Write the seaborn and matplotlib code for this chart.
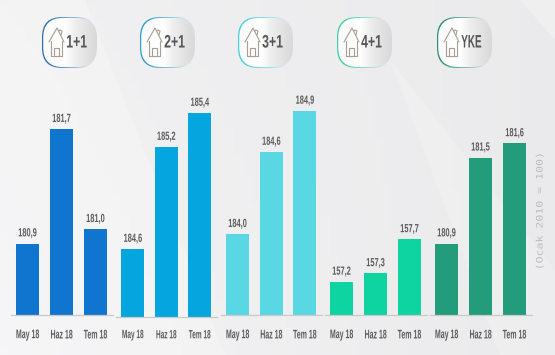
import numpy as np
import pandas as pd
import matplotlib
matplotlib.use("Agg")
import matplotlib.pyplot as plt
from matplotlib.patches import FancyBboxPatch, Polygon
from matplotlib.patheffects import AbstractPathEffect
from matplotlib.transforms import Affine2D
from matplotlib.colors import to_rgb
import seaborn as sns

months = ["May 18", "Haz 18", "Tem 18"]
groups = ["1+1", "2+1", "3+1", "4+1", "YKE"]
values_11 = [180.9, 181.7, 181.0]
values_21 = [184.6, 185.2, 185.4]
values_31 = [184.0, 184.6, 184.9]
values_41 = [157.2, 157.3, 157.7]
values_yke = [180.9, 181.5, 181.6]
all_values = [values_11, values_21, values_31, values_41, values_yke]

colors = ["#0f75cf", "#05a6e0", "#59d7e2", "#0dd4a0", "#229c7b"]
# alt sinir ve piksel/birim, her panel kendi olceginde
y_bottoms = [180.4, 184.2, 183.41, 156.81, 180.4]
slopes = [143, 170, 137, 85, 143]
# panel yerlesimi (piksel): sol, genislik, taban
panels = [(10.5, 102, 315), (116, 100.5, 317), (220.7, 101, 315),
          (324.5, 102, 315), (429.5, 102, 315)]
pill_lefts = [42, 140, 238, 337, 437]
border_colors = ["#2a6fb5", "#2a9fc8", "#45cfd8", "#3fd0a8", "#2a8f78"]

W, H = 555, 355
sns.set_theme(style="white")
plt.rcParams["font.family"] = ["Liberation Sans", "DejaVu Sans"]


# dar yazi tipi yok, yaziyi ekranda sikistir/uzat
class Squeeze(AbstractPathEffect):
    def __init__(self, sx=1.0, sy=1.0):
        super().__init__()
        self.sx = sx
        self.sy = sy

    def draw_path(self, renderer, gc, tpath, affine, rgbFace=None):
        ext = tpath.get_extents(affine)
        cx = (ext.x0 + ext.x1) / 2
        cy = (ext.y0 + ext.y1) / 2
        s = Affine2D().translate(-cx, -cy).scale(self.sx, self.sy).translate(cx, cy)
        renderer.draw_path(gc, tpath, affine + s, rgbFace)


fig = plt.figure(figsize=(W / 100, H / 100), dpi=100)

# arka plan
bg = fig.add_axes([0, 0, 1, 1], zorder=0)
bg.set_xlim(0, W)
bg.set_ylim(H, 0)
bg.axis("off")
xx, yy = np.meshgrid(np.linspace(0, 1, 64), np.linspace(0, 1, 64))
shade = 0.945 - 0.025 * xx + 0.012 * yy * (1 - xx)
bg.imshow(np.dstack([shade, shade, shade + 0.006]).clip(0, 1), extent=[0, W, H, 0], aspect="auto", zorder=0)
bg.add_patch(Polygon([(0, 0), (85, 0), (225, 355), (0, 355)], fc="white", ec="none", alpha=0.22, zorder=1))
bg.add_patch(Polygon([(390, 60), (555, 270), (555, 355), (500, 355)], fc="white", ec="none", alpha=0.16, zorder=1))
bg.add_patch(Polygon([(520, 0), (555, 0), (555, 40)], fc="white", ec="none", alpha=0.25, zorder=1))


def pill_patch(x, y, w, h, rad):
    return FancyBboxPatch((x + rad, y + rad), w - 2 * rad, h - 2 * rad,
                          boxstyle=f"round,pad={rad},rounding_size={rad}",
                          transform=bg.transData, fc="none", ec="none")


def draw_badge(left, label, col):
    top, w, h = 17, 55, 51
    # renkli kenar, saga dogru soluyor
    r, g, b = to_rgb(col)
    alpha = np.clip(1.15 - np.linspace(0, 1, 128) * 1.2, 0, 1)
    edge = np.dstack([np.full((1, 128), r), np.full((1, 128), g), np.full((1, 128), b), alpha[None, :]])
    im = bg.imshow(edge, extent=[left, left + w, top + h, top], aspect="auto", zorder=2)
    p = pill_patch(left, top, w, h, 20)
    bg.add_patch(p)
    im.set_clip_path(p)
    # ic dolgu
    ramp = np.interp(np.linspace(0, 1, 128), [0, 0.42, 0.6, 1], [0.98, 1.0, 0.93, 0.85])
    fill = np.dstack([ramp, ramp, ramp]).reshape(1, 128, 3)
    im2 = bg.imshow(fill, extent=[left + 1, left + w, top + h - 1, top + 1], aspect="auto", zorder=3)
    p2 = pill_patch(left + 1.2, top + 1, w - 1.2, h - 2, 19.5)
    bg.add_patch(p2)
    im2.set_clip_path(p2)
    # ev simgesi
    hx = left + 15
    lc = "#a89e92"
    bg.plot([hx - 8, hx, hx + 7], [42, 28, 42], color=lc, lw=0.8, zorder=4)
    bg.plot([hx - 6, hx - 6, hx + 5, hx + 5], [41, 56, 56, 41], color=lc, lw=0.8, zorder=4)
    bg.plot([hx - 3, hx - 3, hx + 2, hx + 2], [56, 48, 48, 56], color=lc, lw=0.8, zorder=4)
    bg.plot([hx + 2, hx + 3, hx + 5, hx + 4], [31, 30, 31, 35], color=lc, lw=0.8, zorder=4)
    t = bg.text(left + 34.5, 43, label, ha="center", va="center", fontsize=13,
                fontweight="bold", color="#565656", zorder=5)
    t.set_path_effects([Squeeze(0.55 if label == "YKE" else 0.68)])


for left, label, col in zip(pill_lefts, groups, border_colors):
    draw_badge(left, label, col)

# cubuklar
for i, vals in enumerate(all_values):
    px_left, px_w, px_base = panels[i]
    ax = fig.add_axes([px_left / W, 1 - px_base / H, px_w / W, 250 / H], zorder=2)
    ax.patch.set_alpha(0)
    df = pd.DataFrame({"ay": months, "deger": vals})
    sns.barplot(data=df, x="ay", y="deger", color=colors[i], saturation=1, width=0.68, linewidth=0, ax=ax)
    ax.set_ylim(y_bottoms[i], y_bottoms[i] + 250 / slopes[i])
    ax.set_xlim(-0.5, 2.5)
    ax.set_xlabel("")
    ax.set_ylabel("")
    ax.set_yticks([])
    sns.despine(ax=ax, left=True)
    ax.spines["bottom"].set_color("#c9c9cc")
    ax.spines["bottom"].set_linewidth(0.9)
    ax.tick_params(axis="x", length=0, pad=10.5 if i != 1 else 9)
    for t in ax.get_xticklabels():
        t.set_fontsize(6.9 if i == 1 else 7.2)
        t.set_fontweight("bold")
        t.set_color("#5c5c5c")
        t.set_path_effects([Squeeze(0.7 if i != 1 else 0.68, 1.25)])
    labels = ax.bar_label(ax.containers[0], labels=[f"{v:.1f}".replace(".", ",") for v in vals],
                          padding=3, fontsize=8.5, fontweight="bold", color="#5c5c5c")
    for t in labels:
        t.set_path_effects([Squeeze(0.63)])

note = bg.text(540, 211, "(Ocak 2010 = 100)", rotation=90, ha="center", va="center",
               fontsize=6.4, family="DejaVu Sans Mono", color="#bcbcc0", zorder=5)
note.set_path_effects([Squeeze(1.0, 1.3)])

fig.savefig("out.png", dpi=100)
